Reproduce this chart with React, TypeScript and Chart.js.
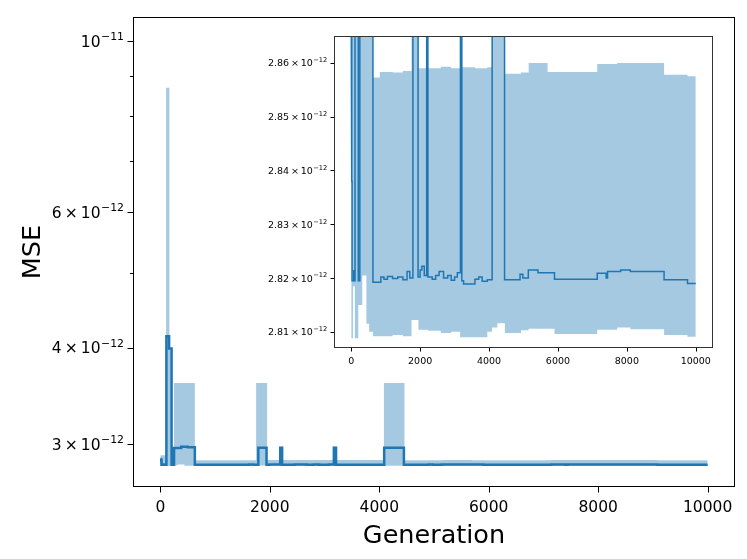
import { useEffect, useRef } from "react"
import { Chart, registerables } from "chart.js"

Chart.register(...registerables)

// all MSE values are in units of 1e-12

// median MSE, step function (value holds until the next generation)
const medianGenerations = [
  0, 15, 25, 60, 80, 110, 160, 205, 250, 380, 500, 630, 860, 950, 1050, 1200, 1350, 1500, 1620, 1700,
  1790, 1940, 2000, 2050, 2120, 2190, 2225, 2350, 2450, 2550, 2680, 2800, 2900, 3000, 3080, 3170, 3210,
  3260, 3590, 3700, 3800, 3950, 4090, 4450, 4900, 4980, 5140, 5420, 5900, 7140, 7400, 7440, 7820, 8100,
  9080, 9760, 10000,
]
const medianMse = [
  2.868, 2.838, 2.8195, 2.8215, 2.8195, 4.14, 3.99, 2.8195, 2.965, 2.975, 2.97, 2.8192, 2.8202, 2.8198,
  2.8203, 2.8199, 2.8202, 2.8197, 2.8212, 2.82, 2.967, 2.8202, 2.8215, 2.8222, 2.8205, 2.967, 2.8202,
  2.8198, 2.8205, 2.8212, 2.82, 2.8205, 2.8196, 2.8202, 2.821, 2.967, 2.8195, 2.8189, 2.8198, 2.8202,
  2.8194, 2.8197, 2.967, 2.8197, 2.8207, 2.82, 2.8215, 2.821, 2.8198, 2.8209, 2.82, 2.8212, 2.8215,
  2.8212, 2.8197, 2.819, 2.819,
]

// spread band across runs, same step convention
const bandGenerations = [
  0, 50, 105, 165, 205, 250, 320, 440, 520, 630, 830, 1200, 1500, 1750, 1950, 2180, 2230, 2600, 2900,
  3160, 3215, 3600, 3950, 4085, 4240, 4460, 4930, 5150, 5700, 5900, 7140, 7720, 8100, 9080, 9760, 10000,
]
const bandLowerMse = [
  2.8088, 2.8185, 2.8088, 2.8088, 2.815, 2.815, 2.8205, 2.8115, 2.81, 2.8092, 2.8092, 2.8094, 2.8092,
  2.8122, 2.8104, 2.8104, 2.8102, 2.8098, 2.81, 2.809, 2.809, 2.809, 2.81, 2.8108, 2.8116, 2.8098, 2.8103,
  2.8106, 2.8106, 2.8096, 2.8104, 2.8108, 2.8105, 2.8094, 2.8091, 2.8091,
]
const bandUpperMse = [
  2.9, 2.9, 8.7, 4.0, 2.9, 3.6, 3.6, 3.6, 3.6, 2.8573, 2.8583, 2.8582, 2.8585, 3.6, 2.859, 2.975, 2.859,
  2.8593, 2.859, 2.975, 2.8592, 2.859, 2.8592, 3.6, 3.6, 2.858, 2.8582, 2.86, 2.8583, 2.8583, 2.8598, 2.86,
  2.86, 2.8578, 2.8575, 2.8575,
]

const xTicks = [0, 2000, 4000, 6000, 8000, 10000]
const mainYTicks = [3, 4, 6, 10]
const mainYMinorTicks = [5, 7, 8, 9]
const insetYTicks = [2.81, 2.82, 2.83, 2.84, 2.85, 2.86]

const FONT = '"DejaVu Sans"'
const LINE = "#1f77b4"
const BAND = "rgba(31,119,180,0.4)"

// turn a step list into explicit corner points (value holds until the next generation)
function stepPoints(gens: number[], vals: number[]) {
  const pts: { x: number; y: number }[] = []
  gens.forEach((g, i) => {
    if (i > 0) pts.push({ x: g, y: vals[i - 1] })
    pts.push({ x: g, y: vals[i] })
  })
  return pts
}

function drawSci(ctx: CanvasRenderingContext2D, mant: string | null, exp: string, right: number, cy: number, size: number) {
  const gap = size * 0.2
  const sup = size * 0.7
  ctx.font = `${size}px ${FONT}`
  const wM = mant ? ctx.measureText(mant).width : 0
  const wT = mant ? ctx.measureText("×").width : 0
  const wTen = ctx.measureText("10").width
  ctx.font = `${sup}px ${FONT}`
  const wE = ctx.measureText(exp).width
  const total = (mant ? wM + gap + wT + gap : 0) + wTen + size * 0.04 + wE
  let x = right - total
  const base = cy + size * 0.365
  ctx.textAlign = "left"
  ctx.textBaseline = "alphabetic"
  ctx.font = `${size}px ${FONT}`
  if (mant) {
    ctx.fillText(mant, x, base)
    x += wM + gap
    ctx.fillText("×", x, base)
    x += wT + gap
  }
  ctx.fillText("10", x, base)
  x += wTen + size * 0.04
  ctx.font = `${sup}px ${FONT}`
  ctx.fillText(exp, x, base - size * 0.43)
}

// matplotlib-like frame, ticks and labels
const mplAxes = {
  id: "mplAxes",
  beforeDraw(chart: any) {
    const { ctx, chartArea: a } = chart
    ctx.save()
    ctx.fillStyle = "#ffffff"
    ctx.fillRect(a.left, a.top, a.right - a.left, a.bottom - a.top)
    ctx.restore()
  },
  afterDraw(chart: any, _args: any, o: any) {
    const { ctx, chartArea: a, scales } = chart
    const xs = scales.x
    const ys = scales.y
    ctx.save()
    ctx.strokeStyle = o.frameColor
    ctx.lineWidth = 1
    ctx.strokeRect(a.left + 0.5, a.top + 0.5, a.right - a.left - 1, a.bottom - a.top - 1)
    ctx.strokeStyle = "#000"
    ctx.beginPath()
    for (const v of o.xTicks) {
      const px = Math.round(xs.getPixelForValue(v)) + 0.5
      ctx.moveTo(px, a.bottom)
      ctx.lineTo(px, a.bottom + o.tickLen)
    }
    for (const v of o.yTicks) {
      const py = Math.round(ys.getPixelForValue(v)) + 0.5
      ctx.moveTo(a.left - o.tickLen, py)
      ctx.lineTo(a.left, py)
    }
    for (const v of o.yMinorTicks) {
      const py = Math.round(ys.getPixelForValue(v)) + 0.5
      ctx.moveTo(a.left - o.minorLen, py)
      ctx.lineTo(a.left, py)
    }
    ctx.stroke()

    ctx.fillStyle = "#000"
    ctx.font = `${o.tickFont}px ${FONT}`
    ctx.textAlign = "center"
    ctx.textBaseline = "alphabetic"
    for (const v of o.xTicks) {
      ctx.fillText(String(v), xs.getPixelForValue(v), a.bottom + o.xLabelGap)
    }
    for (const v of o.yTicks) {
      const [mant, exp] = o.yLabel(v)
      drawSci(ctx, mant, exp, a.left - o.yLabelGap, ys.getPixelForValue(v), o.tickFont)
    }
    if (o.xTitle) {
      ctx.font = `${o.titleFont}px ${FONT}`
      ctx.textAlign = "center"
      ctx.fillText(o.xTitle, (a.left + a.right) / 2, a.bottom + o.xTitleGap)
    }
    if (o.yTitle) {
      ctx.font = `${o.titleFont}px ${FONT}`
      ctx.translate(a.left - o.yTitleGap, (a.top + a.bottom) / 2)
      ctx.rotate(-Math.PI / 2)
      ctx.textAlign = "center"
      ctx.fillText(o.yTitle, 0, 0)
    }
    ctx.restore()
  },
}

function buildDatasets(lineWidth: number) {
  return [
    {
      data: stepPoints(bandGenerations, bandLowerMse),
      borderColor: "transparent",
      borderWidth: 0,
      pointRadius: 0,
      fill: false,
    },
    {
      data: stepPoints(bandGenerations, bandUpperMse),
      borderColor: "transparent",
      borderWidth: 0,
      pointRadius: 0,
      fill: "-1",
      backgroundColor: BAND,
    },
    {
      data: stepPoints(medianGenerations, medianMse),
      borderColor: LINE,
      borderWidth: lineWidth,
      pointRadius: 0,
      fill: false,
    },
  ]
}

function MainChart() {
  const ref = useRef<HTMLCanvasElement>(null)
  useEffect(() => {
    if (!ref.current) return
    const chart = new Chart(ref.current, {
      type: "line",
      data: { datasets: buildDatasets(2.5) as any },
      plugins: [mplAxes],
      options: {
        responsive: true,
        maintainAspectRatio: false,
        animation: false,
        events: [],
        layout: { padding: { left: 133, top: 17, right: 12, bottom: 72 } },
        scales: {
          x: { type: "linear", min: -500, max: 10500, display: false },
          y: { type: "logarithmic", min: 2.638, max: 10.75, display: false },
        },
        plugins: {
          legend: { display: false },
          tooltip: { enabled: false },
          mplAxes: {
            xTicks,
            yTicks: mainYTicks,
            yMinorTicks: mainYMinorTicks,
            yLabel: (v: number) => (v === 10 ? [null, "−11"] : [String(v), "−12"]),
            tickFont: 15.5,
            tickLen: 5.5,
            minorLen: 3,
            xLabelGap: 24.7,
            yLabelGap: 9,
            frameColor: "#000",
            xTitle: "Generation",
            yTitle: "MSE",
            titleFont: 25.5,
            xTitleGap: 56.3,
            yTitleGap: 93.5,
          },
        } as any,
      },
    })
    return () => chart.destroy()
  }, [])
  return <canvas ref={ref} />
}

function InsetChart() {
  const ref = useRef<HTMLCanvasElement>(null)
  useEffect(() => {
    if (!ref.current) return
    const chart = new Chart(ref.current, {
      type: "line",
      data: { datasets: buildDatasets(1.5) as any },
      plugins: [mplAxes],
      options: {
        responsive: true,
        maintainAspectRatio: false,
        animation: false,
        events: [],
        layout: { padding: { left: 84, top: 8, right: 17, bottom: 25 } },
        scales: {
          x: { type: "linear", min: -500, max: 10500, display: false },
          y: { type: "linear", min: 2.807, max: 2.865, display: false },
        },
        plugins: {
          legend: { display: false },
          tooltip: { enabled: false },
          mplAxes: {
            xTicks,
            yTicks: insetYTicks,
            yMinorTicks: [],
            yLabel: (v: number) => [v.toFixed(2), "−12"],
            tickFont: 9.5,
            tickLen: 3.5,
            minorLen: 2,
            xLabelGap: 15.5,
            yLabelGap: 6.7,
            frameColor: "#333",
          },
        } as any,
      },
    })
    return () => chart.destroy()
  }, [])
  return <canvas ref={ref} />
}

export default function App() {
  return (
    <div style={{ position: "fixed", left: 0, top: 0, width: 747, height: 559, background: "#fff" }}>
      <div style={{ position: "absolute", left: 0, top: 0, width: 747, height: 559 }}>
        <MainChart />
      </div>
      <div style={{ position: "absolute", left: 250, top: 28, width: 480, height: 345 }}>
        <InsetChart />
      </div>
    </div>
  )
}
